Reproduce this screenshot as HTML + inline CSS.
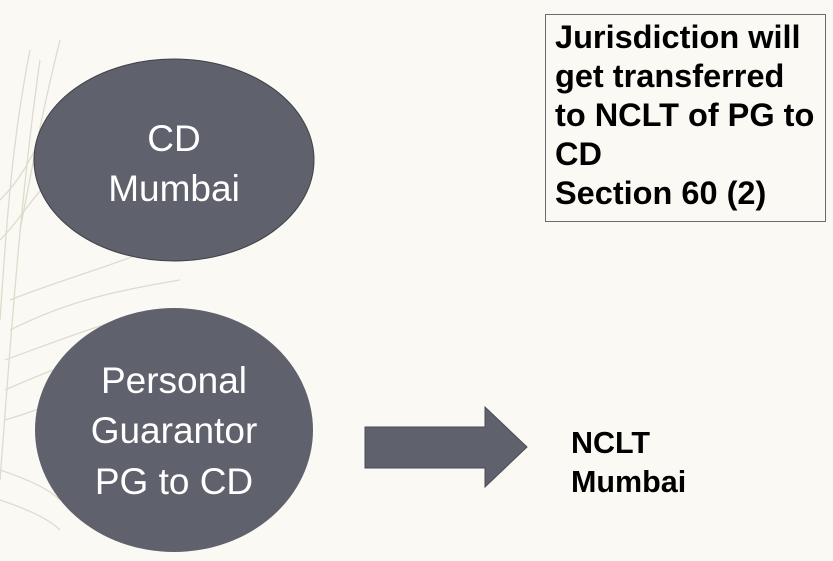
<!DOCTYPE html>
<html><head><style>
html,body{margin:0;padding:0;}
body{width:833px;height:561px;background:#fbf9f4;position:relative;overflow:hidden;font-family:"Liberation Sans",sans-serif;}
.box{position:absolute;left:545px;top:14px;width:281px;height:208px;border:1.5px solid #6b6b70;box-sizing:border-box;}
.bt{position:absolute;left:555px;top:18px;font-weight:bold;font-size:32.5px;line-height:39px;color:#000;white-space:nowrap;}
.nc{position:absolute;left:571px;top:424px;font-weight:bold;font-size:30.5px;line-height:39px;color:#000;}
</style></head><body>
<svg width="833" height="561" style="position:absolute;left:0;top:0">
<g stroke="#dcd8c8" stroke-width="1.3" fill="none" opacity="0.9">
<path d="M40 60 C20 200 10 350 0 480"/>
<path d="M30 50 C10 150 5 250 0 320"/>
<path d="M60 40 C40 120 30 180 20 230"/>
<path d="M10 300 C60 280 100 270 150 250"/>
<path d="M10 330 C70 300 120 290 180 280"/>
<path d="M5 360 C60 340 110 320 160 310"/>
<path d="M5 390 C50 370 80 360 110 350"/>
<path d="M5 420 C40 410 60 400 80 390"/>
<path d="M0 500 C30 510 50 520 60 530"/>
<path d="M0 470 C30 480 50 490 60 500"/>
<path d="M0 200 C20 180 30 160 40 140"/>
<path d="M0 240 C20 220 30 200 50 180"/>
</g>
<ellipse cx="174" cy="160" rx="140" ry="101" fill="#5f616d" stroke="#3f4048" stroke-width="1"/>
<ellipse cx="174" cy="430" rx="139" ry="122" fill="#5f616d"/>
<polygon points="365,427 485,427 485,407 527,447 485,487 485,468 365,468" fill="#5f616d" stroke="#4a4b55" stroke-width="1"/>
<g fill="#fff" font-family="Liberation Sans, sans-serif" font-size="37" text-anchor="middle">
<text x="174" y="151">CD</text>
<text x="174" y="201">Mumbai</text>
<text x="174" y="393">Personal</text>
<text x="174" y="443">Guarantor</text>
<text x="174" y="494">PG to CD</text>
</g>
</svg>
<div class="box"></div>
<div class="bt">Jurisdiction will<br>get transferred<br>to NCLT of PG to<br>CD<br>Section 60 (2)</div>
<div class="nc">NCLT<br>Mumbai</div>
</body></html>
